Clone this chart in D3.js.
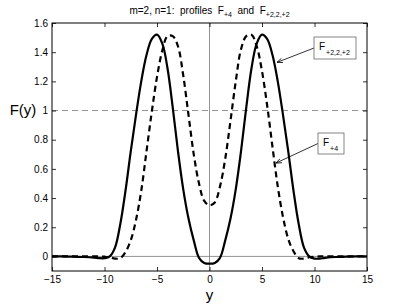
<!DOCTYPE html>
<html>
<head>
<meta charset="utf-8">
<script src="https://cdn.jsdelivr.net/npm/d3@7"></script>
<style>
  body { margin: 0; background: #fff; }
  svg { display: block; font-family: "Liberation Sans", Arial, sans-serif; }
  .pre { white-space: pre; }
</style>
</head>
<body>
<div id="chart"></div>
<script>
// sample points (y) and profile values
const ys = [-15, -14, -13, -12, -11, -10.5, -10, -9.5, -9, -8.5, -8, -7.5, -7, -6.5, -6, -5.5, -5, -4.5, -4, -3.5, -3, -2.5, -2, -1.5, -1, -0.5, 0,
            0.5, 1, 1.5, 2, 2.5, 3, 3.5, 4, 4.5, 5, 5.5, 6, 6.5, 7, 7.5, 8, 8.5, 9, 9.5, 10, 10.5, 11, 12, 13, 14, 15];
const fPlus4 = [0, 0, 0, 0, 0, 0, -0.002, -0.006, -0.015, -0.012, 0.03, 0.11, 0.25, 0.45, 0.72, 0.99, 1.23, 1.41, 1.51, 1.51, 1.44, 1.24, 0.97, 0.70, 0.50, 0.38, 0.35,
                0.37, 0.48, 0.67, 0.93, 1.20, 1.42, 1.51, 1.52, 1.44, 1.27, 1.03, 0.75, 0.48, 0.27, 0.12, 0.035, -0.012, -0.015, -0.006, -0.002, 0, 0, 0, 0, 0, 0];
const fPlus222 = [0, 0, -0.002, -0.004, -0.008, -0.012, -0.012, 0.0, 0.06, 0.22, 0.45, 0.72, 0.97, 1.20, 1.38, 1.49, 1.52, 1.46, 1.29, 1.02, 0.72, 0.46, 0.26, 0.11, -0.01, -0.045, -0.05,
                  -0.045, -0.01, 0.11, 0.26, 0.46, 0.72, 1.02, 1.29, 1.46, 1.52, 1.49, 1.38, 1.20, 0.97, 0.72, 0.45, 0.22, 0.06, 0.0, -0.015, -0.015, -0.01, -0.004, -0.002, 0, 0];
const xTicks = [-15, -10, -5, 0, 5, 10, 15];
const yTicks = [0, 0.2, 0.4, 0.6, 0.8, 1, 1.2, 1.4, 1.6];

const W = 406, H = 305;
const m = { left: 52, right: 39, top: 23, bottom: 34 };

const svg = d3.select("#chart").append("svg")
    .attr("width", W).attr("height", H)
    .attr("viewBox", [0, 0, W, H]);

const x = d3.scaleLinear().domain([-15, 15]).range([m.left, W - m.right]);
const y = d3.scaleLinear().domain([-0.1, 1.6]).range([H - m.bottom, m.top]);

const x0 = x.range()[0], x1 = x.range()[1], y0 = y.range()[0], y1 = y.range()[1];

// reference lines
svg.append("line").attr("x1", x(0)).attr("x2", x(0)).attr("y1", y0).attr("y2", y1)
    .attr("stroke", "#777").attr("stroke-width", 0.8);
svg.append("line").attr("x1", x0).attr("x2", x1).attr("y1", y(0)).attr("y2", y(0))
    .attr("stroke", "#777").attr("stroke-width", 0.8);
svg.append("line").attr("x1", x0).attr("x2", x1).attr("y1", y(1)).attr("y2", y(1))
    .attr("stroke", "#777").attr("stroke-width", 0.8).attr("stroke-dasharray", "6,4");

// curves
const line = vals => d3.line()
    .x((d, i) => x(ys[i]))
    .y(d => y(d))
    .curve(d3.curveCatmullRom.alpha(0.5))(vals);

svg.append("path").attr("d", line(fPlus222))
    .attr("fill", "none").attr("stroke", "#000").attr("stroke-width", 2.2);
svg.append("path").attr("d", line(fPlus4))
    .attr("fill", "none").attr("stroke", "#000").attr("stroke-width", 2.2)
    .attr("stroke-dasharray", "6,4");

// axes (ticks inward, mirrored)
const tickFont = g => g.selectAll("text").attr("font-size", 10).attr("fill", "#000")
    .attr("font-family", "Liberation Sans, Arial, sans-serif");
const fmtX = d => d < 0 ? "\u2212" + Math.abs(d) : d;

svg.append("g").attr("transform", `translate(0,${y0})`)
    .call(d3.axisBottom(x).tickValues(xTicks).tickSizeInner(-4).tickSizeOuter(0).tickPadding(5).tickFormat(fmtX))
    .call(tickFont);
svg.append("g").attr("transform", `translate(0,${y1})`)
    .call(d3.axisTop(x).tickValues(xTicks).tickSizeInner(-4).tickSizeOuter(0).tickFormat(""));
svg.append("g").attr("transform", `translate(${x0},0)`)
    .call(d3.axisLeft(y).tickValues(yTicks).tickSizeInner(-4).tickSizeOuter(0).tickPadding(4).tickFormat(d3.format("")))
    .call(tickFont);
svg.append("g").attr("transform", `translate(${x1},0)`)
    .call(d3.axisRight(y).tickValues(yTicks).tickSizeInner(-4).tickSizeOuter(0).tickFormat(""));
svg.selectAll(".domain").remove();
svg.selectAll(".tick line").attr("stroke", "#000").attr("stroke-width", 0.8);

svg.append("rect").attr("x", x0).attr("y", y1).attr("width", x1 - x0).attr("height", y0 - y1)
    .attr("fill", "none").attr("stroke", "#000").attr("stroke-width", 1);

// labels
const title = svg.append("text").attr("class", "pre").attr("x", (x0 + x1) / 2).attr("y", 14)
    .attr("text-anchor", "middle").attr("font-size", 10);
title.append("tspan").text("m=2, n=1:  profiles  F");
title.append("tspan").attr("font-size", 7).attr("dy", 3).text("+4");
title.append("tspan").attr("dy", -3).text("  and  F");
title.append("tspan").attr("font-size", 7).attr("dy", 3).text("+2,2,+2");

svg.append("text").attr("x", 23).attr("y", 115).attr("text-anchor", "middle")
    .attr("font-size", 15).text("F(y)");
svg.append("text").attr("x", (x0 + x1) / 2).attr("y", 300).attr("text-anchor", "middle")
    .attr("font-size", 15).text("y");

// annotations
svg.append("defs").append("marker").attr("id", "arr")
    .attr("viewBox", "0 0 10 10").attr("refX", 10).attr("refY", 5)
    .attr("markerWidth", 7).attr("markerHeight", 7).attr("orient", "auto")
    .append("path").attr("d", "M0,1 L10,5 L0,9").attr("fill", "none").attr("stroke", "#000").attr("stroke-width", 1.4);

function note(bx, by, bw, bh, sub, tx, ty) {
    svg.append("line").attr("x1", bx).attr("y1", by + bh / 2).attr("x2", x(tx)).attr("y2", y(ty))
        .attr("stroke", "#000").attr("stroke-width", 0.8).attr("marker-end", "url(#arr)");
    svg.append("rect").attr("x", bx).attr("y", by).attr("width", bw).attr("height", bh)
        .attr("fill", "#fff").attr("stroke", "#666").attr("stroke-width", 0.8);
    const t = svg.append("text").attr("x", bx + 5).attr("y", by + 13).attr("font-size", 10);
    t.append("tspan").text("F");
    t.append("tspan").attr("font-size", 7).attr("dy", 5).attr("dx", 1).text(sub);
}
note(314, 37, 42, 22, "+2,2,+2", 6.43, 1.33);
note(318, 133, 26, 21, "+4", 6.33, 0.64);
</script>
</body>
</html>
